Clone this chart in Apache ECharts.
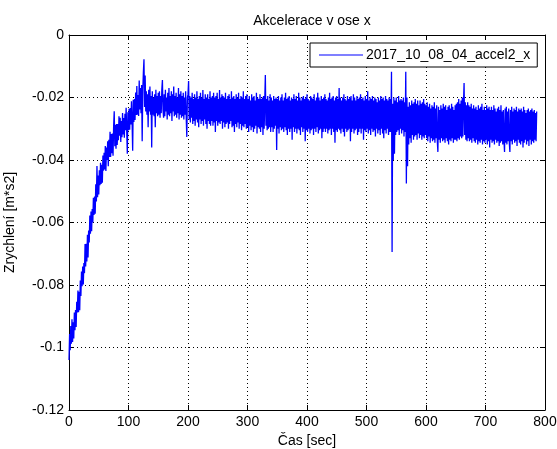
<!DOCTYPE html>
<html>
<head>
<meta charset="utf-8">
<script src="https://cdn.jsdelivr.net/npm/echarts@6/dist/echarts.min.js"></script>
<style>html,body{margin:0;padding:0;background:#fff}#c{width:557px;height:449px}</style>
</head>
<body>
<div id="c"></div>
<script>
const chartTitle = 'Akcelerace v ose x';
const seriesName = '2017_10_08_04_accel2_x';
const xName = 'Čas [sec]';
const yName = 'Zrychlení [m*s2]';
const xTicks = [0, 100, 200, 300, 400, 500, 600, 700, 800];
const yTicks = [-0.12, -0.1, -0.08, -0.06, -0.04, -0.02, 0];
const sampleStep = 1; // seconds between samples, first sample at 0 s
const accelX = [
-.1040,-.0957,-.1009,-.0931,-.0988,-.0910,-.0982,-.0919,-.0971,-.0888,
-.0945,-.0880,-.0934,-.0854,-.0888,-.0818,-.0887,-.0822,-.0881,-.0786,
-.0835,-.0757,-.0804,-.0741,-.0798,-.0730,-.0762,-.0669,-.0741,-.0668,
-.0725,-.0639,-.0712,-.0626,-.0664,-.0578,-.0636,-.0565,-.0628,-.0557,
-.0600,-.0521,-.0576,-.0517,-.0572,-.0478,-.0533,-.0419,-.0519,-.0450,
-.0510,-.0433,-.0481,-.0409,-.0477,-.0415,-.0473,-.0386,-.0434,-.0377,
-.0430,-.0355,-.0435,-.0360,-.0400,-.0340,-.0420,-.0335,-.0390,-.0310,
-.0390,-.0317,-.0378,-.0315,-.0386,-.0293,-.0244,-.0356,-.0287,-.0364,
-.0285,-.0352,-.0285,-.0337,-.0260,-.0322,-.0265,-.0342,-.0275,-.0327,
-.0250,-.0318,-.0266,-.0329,-.0252,-.0305,-.0233,-.0306,-.0380,-.0247,
-.0305,-.0236,-.0303,-.0234,-.0286,-.0212,-.0274,-.0370,-.0207,-.0278,
-.0205,-.0272,-.0184,-.0256,-.0163,-.0255,-.0192,-.0259,-.0146,-.0238,
-.0170,-.0250,-.0160,-.0340,-.0175,-.0120,-.0078,-.0230,-.0130,-.0245,
-.0180,-.0255,-.0190,-.0295,-.0175,-.0245,-.0165,-.0255,-.0195,-.0360,
-.0180,-.0255,-.0200,-.0260,-.0190,-.0295,-.0175,-.0250,-.0195,-.0260,
-.0185,-.0255,-.0180,-.0265,-.0195,-.0250,-.0175,-.0144,-.0240,-.0265,
-.0190,-.0260,-.0175,-.0245,-.0200,-.0270,-.0185,-.0255,-.0170,-.0260,
-.0195,-.0250,-.0180,-.0275,-.0190,-.0245,-.0165,-.0260,-.0195,-.0255,
-.0185,-.0265,-.0200,-.0250,-.0170,-.0270,-.0190,-.0255,-.0180,-.0265,
-.0195,-.0260,-.0185,-.0270,-.0200,-.0255,-.0180,-.0265,-.0326,-.0200,
-.0190,-.0147,-.0270,-.0195,-.0280,-.0200,-.0265,-.0185,-.0285,-.0205,
-.0275,-.0190,-.0290,-.0200,-.0270,-.0180,-.0280,-.0205,-.0295,-.0195,
-.0270,-.0185,-.0285,-.0200,-.0275,-.0176,-.0290,-.0205,-.0270,-.0190,
-.0285,-.0200,-.0300,-.0190,-.0275,-.0205,-.0285,-.0180,-.0290,-.0200,
-.0275,-.0195,-.0290,-.0185,-.0280,-.0200,-.0310,-.0195,-.0275,-.0185,
-.0290,-.0205,-.0280,-.0176,-.0285,-.0200,-.0275,-.0190,-.0300,-.0195,
-.0280,-.0200,-.0295,-.0185,-.0285,-.0205,-.0280,-.0195,-.0300,-.0190,
-.0285,-.0205,-.0275,-.0180,-.0295,-.0200,-.0290,-.0195,-.0310,-.0205,
-.0285,-.0190,-.0295,-.0200,-.0280,-.0185,-.0300,-.0205,-.0285,-.0195,
-.0305,-.0200,-.0290,-.0180,-.0295,-.0205,-.0285,-.0195,-.0300,-.0190,
-.0295,-.0205,-.0310,-.0195,-.0290,-.0210,-.0305,-.0190,-.0295,-.0200,
-.0310,-.0195,-.0300,-.0210,-.0290,-.0185,-.0315,-.0200,-.0295,-.0205,
-.0300,-.0190,-.0310,-.0205,-.0295,-.0200,-.0320,-.0195,-.0300,-.0210,
-.0128,-.0290,-.0205,-.0305,-.0195,-.0300,-.0210,-.0295,-.0190,-.0310,
-.0200,-.0295,-.0210,-.0310,-.0195,-.0300,-.0205,-.0290,-.0200,-.0368,
-.0205,-.0300,-.0195,-.0315,-.0210,-.0295,-.0200,-.0305,-.0190,-.0300,
-.0210,-.0310,-.0200,-.0295,-.0185,-.0305,-.0205,-.0320,-.0200,-.0300,
-.0195,-.0310,-.0210,-.0300,-.0200,-.0335,-.0205,-.0295,-.0190,-.0310,
-.0205,-.0300,-.0195,-.0315,-.0210,-.0300,-.0185,-.0305,-.0200,-.0320,
-.0210,-.0295,-.0200,-.0310,-.0195,-.0300,-.0205,-.0340,-.0200,-.0305,
-.0190,-.0310,-.0205,-.0300,-.0210,-.0315,-.0195,-.0305,-.0200,-.0300,
-.0205,-.0320,-.0190,-.0300,-.0210,-.0310,-.0200,-.0295,-.0185,-.0315,
-.0200,-.0305,-.0210,-.0300,-.0195,-.0330,-.0205,-.0310,-.0200,-.0300,
-.0190,-.0310,-.0205,-.0300,-.0210,-.0315,-.0200,-.0305,-.0185,-.0300,
-.0205,-.0320,-.0200,-.0300,-.0195,-.0310,-.0210,-.0345,-.0200,-.0305,
-.0195,-.0310,-.0205,-.0300,-.0170,-.0305,-.0200,-.0315,-.0210,-.0300,
-.0200,-.0310,-.0190,-.0325,-.0205,-.0300,-.0210,-.0310,-.0195,-.0305,
-.0205,-.0300,-.0200,-.0340,-.0195,-.0310,-.0210,-.0300,-.0190,-.0315,
-.0200,-.0305,-.0210,-.0300,-.0195,-.0320,-.0205,-.0310,-.0200,-.0300,
-.0190,-.0315,-.0205,-.0300,-.0200,-.0335,-.0210,-.0305,-.0195,-.0310,
-.0205,-.0300,-.0180,-.0315,-.0210,-.0305,-.0200,-.0320,-.0205,-.0300,
-.0195,-.0310,-.0210,-.0305,-.0200,-.0325,-.0205,-.0300,-.0215,-.0315,
-.0200,-.0305,-.0210,-.0320,-.0195,-.0300,-.0205,-.0315,-.0200,-.0330,
-.0210,-.0305,-.0195,-.0315,-.0205,-.0300,-.0210,-.0320,-.0200,-.0310,
-.0205,-.0310,-.0118,-.0694,-.0220,-.0400,-.0200,-.0380,-.0210,-.0320,
-.0200,-.0310,-.0215,-.0305,-.0195,-.0320,-.0210,-.0300,-.0205,-.0315,
-.0210,-.0305,-.0200,-.0325,-.0215,-.0310,-.0118,-.0475,-.0200,-.0420,
-.0230,-.0350,-.0215,-.0330,-.0225,-.0345,-.0210,-.0320,-.0220,-.0335,
-.0215,-.0325,-.0205,-.0320,-.0220,-.0335,-.0210,-.0315,-.0225,-.0330,
-.0210,-.0320,-.0220,-.0335,-.0215,-.0325,-.0205,-.0330,-.0220,-.0320,
-.0225,-.0330,-.0215,-.0340,-.0230,-.0325,-.0220,-.0345,-.0235,-.0330,
-.0225,-.0340,-.0230,-.0335,-.0215,-.0345,-.0235,-.0330,-.0225,-.0340,
-.0374,-.0230,-.0335,-.0240,-.0345,-.0225,-.0330,-.0235,-.0340,-.0220,
-.0335,-.0230,-.0345,-.0225,-.0330,-.0240,-.0340,-.0230,-.0350,-.0225,
-.0335,-.0235,-.0340,-.0220,-.0330,-.0230,-.0345,-.0240,-.0335,-.0225,
-.0335,-.0220,-.0340,-.0215,-.0330,-.0205,-.0335,-.0220,-.0325,-.0210,
-.0330,-.0200,-.0325,-.0220,-.0154,-.0320,-.0215,-.0335,-.0225,-.0340,
-.0215,-.0330,-.0225,-.0340,-.0230,-.0335,-.0220,-.0345,-.0235,-.0330,
-.0225,-.0340,-.0235,-.0345,-.0230,-.0335,-.0240,-.0350,-.0225,-.0340,
-.0235,-.0345,-.0230,-.0335,-.0220,-.0350,-.0240,-.0340,-.0230,-.0345,
-.0240,-.0335,-.0225,-.0350,-.0235,-.0340,-.0230,-.0360,-.0240,-.0335,
-.0230,-.0345,-.0240,-.0340,-.0225,-.0350,-.0235,-.0335,-.0245,-.0345,
-.0235,-.0340,-.0230,-.0355,-.0240,-.0345,-.0225,-.0340,-.0245,-.0350,
-.0240,-.0335,-.0374,-.0235,-.0345,-.0230,-.0350,-.0245,-.0340,-.0235,
-.0345,-.0374,-.0240,-.0340,-.0230,-.0350,-.0245,-.0335,-.0235,-.0345,
-.0240,-.0340,-.0230,-.0355,-.0245,-.0335,-.0235,-.0345,-.0240,-.0350,
-.0235,-.0340,-.0245,-.0360,-.0230,-.0345,-.0240,-.0335,-.0250,-.0350,
-.0240,-.0340,-.0235,-.0355,-.0245,-.0335,-.0240,-.0350,-.0235,-.0340,
-.0245,-.0345,-.0240,-.0335,-.0250,-.0340,-.0245
];

const seriesData = accelX.map((v, i) => [i * sampleStep, v]);
const font = "'Liberation Sans', Arial, Helvetica, sans-serif";
const txt = { color: '#000', fontFamily: font, fontSize: 14 };
const gridDots = { show: true, lineStyle: { color: '#000', width: 1, type: [1, 3] } };
const black = { lineStyle: { color: '#000', width: 1 } };

const chart = echarts.init(document.getElementById('c'), null, { renderer: 'canvas' });
chart.setOption({
  animation: false,
  backgroundColor: '#fff',
  title: {
    text: chartTitle, left: 307, top: 9, textAlign: 'center',
    textStyle: { color: '#000', fontFamily: font, fontSize: 14, fontWeight: 'normal' }
  },
  legend: {
    data: [seriesName], left: 310, top: 43,
    icon: 'rect', itemWidth: 44, itemHeight: 1, itemGap: 0,
    padding: [5, 7, 5, 9],
    backgroundColor: '#fff', borderColor: '#000', borderWidth: 1, borderRadius: 0,
    textStyle: Object.assign({}, txt, { padding: [0, 0, 0, -2] })
  },
  grid: { left: 69, top: 35, right: 12, bottom: 39, containLabel: false, outerBoundsMode: 'none' },
  xAxis: [{
    type: 'value', min: xTicks[0], max: xTicks[xTicks.length - 1], interval: 100,
    name: xName, nameLocation: 'middle', nameGap: 22, nameTextStyle: txt,
    axisLine: Object.assign({ show: true, onZero: false }, black),
    axisTick: { show: true, inside: true, length: 5, lineStyle: { color: '#000' } },
    axisLabel: Object.assign({ margin: 5 }, txt),
    splitLine: gridDots
  }, {
    type: 'value', position: 'top', min: xTicks[0], max: xTicks[xTicks.length - 1], interval: 100,
    axisLine: Object.assign({ show: true, onZero: false }, black),
    axisTick: { show: true, inside: true, length: 5, lineStyle: { color: '#000' } },
    axisLabel: { show: false }, splitLine: { show: false }
  }],
  yAxis: [{
    type: 'value', min: yTicks[0], max: yTicks[yTicks.length - 1], interval: 0.02,
    name: yName, nameLocation: 'middle', nameGap: 52, nameRotate: 90, nameTextStyle: txt,
    axisLine: Object.assign({ show: true, onZero: false }, black),
    axisTick: { show: true, inside: true, length: 5, lineStyle: { color: '#000' } },
    axisLabel: Object.assign({ margin: 5, formatter: v => String(+v.toFixed(2)) }, txt),
    splitLine: gridDots
  }, {
    type: 'value', position: 'right', min: yTicks[0], max: yTicks[yTicks.length - 1], interval: 0.02,
    axisLine: Object.assign({ show: true, onZero: false }, black),
    axisTick: { show: true, inside: true, length: 5, lineStyle: { color: '#000' } },
    axisLabel: { show: false }, splitLine: { show: false }
  }],
  series: [{
    name: seriesName, type: 'line', data: seriesData,
    xAxisIndex: 0, yAxisIndex: 0,
    symbol: 'none', showSymbol: false, clip: true,
    color: '#0000ff',
    lineStyle: { color: '#0000ff', width: 1.3 },
    itemStyle: { color: '#0000ff' }
  }]
});
</script>
</body>
</html>
